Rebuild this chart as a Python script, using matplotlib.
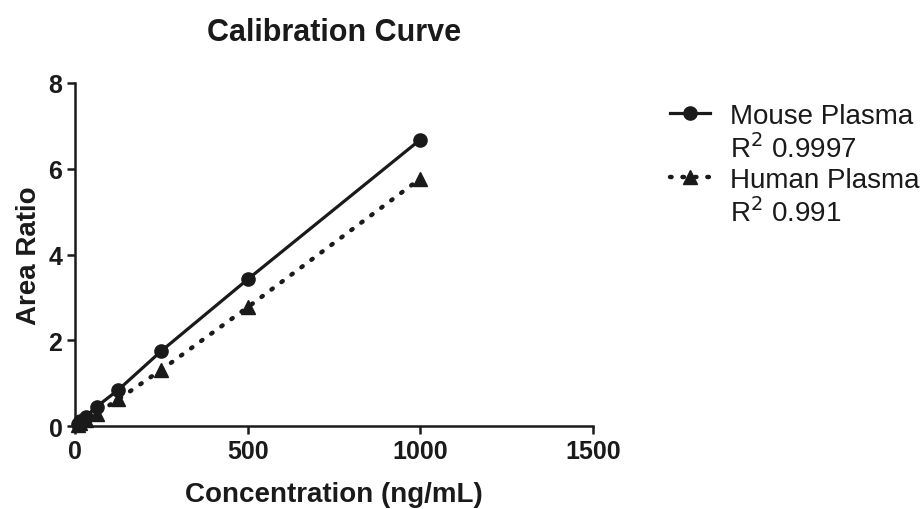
import matplotlib
matplotlib.use('Agg')
import matplotlib.pyplot as plt
from matplotlib.lines import Line2D

plt.rcParams['font.family'] = ['Liberation Sans', 'DejaVu Sans']

# calibration standards (ng/mL) and measured area ratios
conc = [7.8125, 15.625, 31.25, 62.5, 125, 250, 500, 1000]
mouse_ratio = [0.05, 0.11, 0.22, 0.45, 0.84, 1.75, 3.42, 6.68]
human_ratio = [0.03, 0.07, 0.15, 0.29, 0.62, 1.31, 2.77, 5.77]

mouse_r2 = '0.9997'
human_r2 = '0.991'

ink = '#1a1a1a'
dots = (0, (0.35, 2.45))

fig = plt.figure(figsize=(9.21, 5.10), dpi=100)
ax = fig.add_axes([0.0814, 0.1627, 0.5625, 0.6726])

ax.plot(conc, mouse_ratio, color=ink, lw=2.3, marker='o', ms=9.5,
        clip_on=False, zorder=3)
ax.plot(conc, human_ratio, color=ink, lw=3.2, linestyle=dots,
        dash_capstyle='round', marker='^', ms=9.5, clip_on=False, zorder=3)

ax.set_xlim(0, 1500)
ax.set_ylim(0, 8)
ax.set_xticks([0, 500, 1000, 1500])
ax.set_yticks([0, 2, 4, 6, 8])

for side in ['top', 'right']:
    ax.spines[side].set_visible(False)
for side in ['left', 'bottom']:
    ax.spines[side].set_linewidth(1.8)
    ax.spines[side].set_color(ink)

ax.tick_params(axis='both', direction='out', length=6, width=1.8,
               color=ink, labelcolor=ink, labelsize=18, pad=3)
for lab in ax.get_xticklabels() + ax.get_yticklabels():
    lab.set_fontweight('bold')

ax.set_xlabel('Concentration (ng/mL)', fontsize=20, fontweight='bold',
              color=ink, labelpad=13)
ax.set_ylabel('Area Ratio', fontsize=20, fontweight='bold', color=ink,
              labelpad=5)
ax.set_title('Calibration Curve', fontsize=22, fontweight='bold', color=ink,
             pad=31)

handles = [
    Line2D([], [], color=ink, lw=2.3, marker='o', ms=9.5),
    Line2D([], [], linestyle='none'),
    Line2D([], [], color=ink, lw=3.2, linestyle=dots,
           dash_capstyle='round', marker='^', ms=9.5),
    Line2D([], [], linestyle='none'),
]
labels = ['Mouse Plasma', 'R$^2$ ' + mouse_r2, 'Human Plasma', 'R$^2$ ' + human_r2]
leg = fig.legend(handles, labels, loc='upper left',
                 bbox_to_anchor=(0.7275, 0.797), frameon=False,
                 fontsize=20, handlelength=1.45, handletextpad=0.7,
                 labelspacing=0.15, borderpad=0, borderaxespad=0)
for t in leg.get_texts():
    t.set_color(ink)

fig.savefig('out.png', dpi=100)
